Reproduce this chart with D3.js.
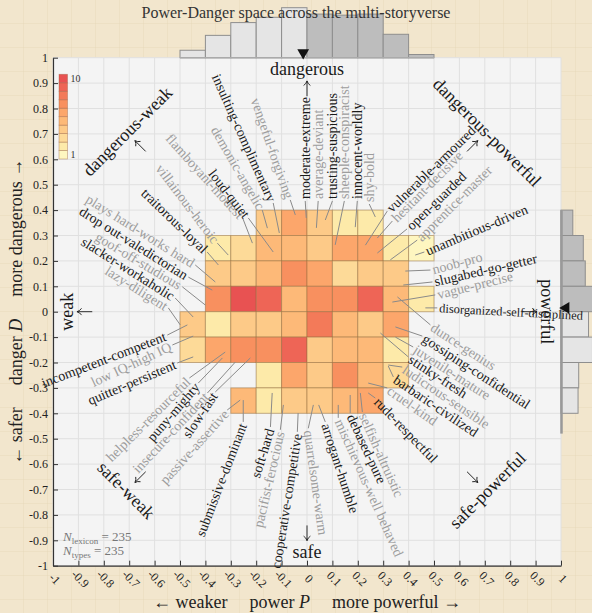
<!DOCTYPE html>
<html><head><meta charset="utf-8">
<script src="https://cdn.jsdelivr.net/npm/d3@7"></script>
<style>
html,body{margin:0;padding:0;background:#f2e7d0;}
svg{display:block;font-family:"Liberation Serif","DejaVu Serif",serif;}
</style></head><body>
<svg id="chart" width="592" height="613"></svg>
<script>
// ---------------- DATA ----------------
const powerBins  = [-0.5,-0.4,-0.3,-0.2,-0.1,0,0.1,0.2,0.3,0.4];   // left edge of each power bin
const dangerBins = [0.3,0.2,0.1,0,-0.1,-0.2,-0.3,-0.4];            // bottom edge of each danger bin
// counts per cell: rows follow dangerBins, columns follow powerBins (0 = empty)
const cellCounts = [
  [0,0,0,4,6,4,2,2,0,0],
  [0,2,3,5,5,4,6,6,2,1],
  [0,4,4,5,7,6,3,4,4,0],
  [0,7,10,9,5,7,7,9,5,2],
  [4,2,4,4,5,8,5,4,6,0],
  [3,6,7,7,9,4,5,5,2,0],
  [0,0,0,2,6,4,7,5,3,0],
  [0,0,5,2,4,4,5,6,0,0]
];
const colorLevels = [1,2,3,4,5,6,7,8,9,10];
const tickValues = d3.range(-10,11).map(i=>i/10);
const meanPower = -0.015, meanDanger = 0.015;
const nLexicon = 235, nTypes = 235;

const labelNames = ["plays hard-works hard","drop out-valedictorian","goof-off-studious","slacker-workaholic","lazy-diligent",
 "incompetent-competent","low IQ-high IQ","quitter-persistent","traitorous-loyal","villainous-heroic","flamboyant-modest",
 "demonic-angelic","loud-quiet","insulting-complimentary","vengeful-forgiving","moderate-extreme","average-deviant",
 "trusting-suspicious","sheeple-conspiracist","innocent-worldly","shy-bold","vulnerable-armoured","hesitant-decisive",
 "open-guarded","apprentice-master","unambitious-driven","noob-pro","slugabed-go-getter","vague-precise",
 "disorganized-self-disciplined","dunce-genius","gossiping-confidential","juvenile-mature","stinky-fresh",
 "ludicrous-sensible","barbaric-civilized","cruel-kind","rude-respectful","selfish-altruistic","debased-pure",
 "mischievous-well behaved","arrogant-humble","quarrelsome-warm","cooperative-competitive","pacifist-ferocious",
 "soft-hard","submissive-dominant","passive-assertive","slow-fast","insecure-confident","puny-mighty","helpless-resourceful"];
const labelGray = [1,0,1,0,1,0,1,0,0,1,1,1,0,0,1,0,1,0,1,0,1,0,1,0,1,0,1,0,1,0,1,0,1,0,1,0,1,0,1,0,1,0,1,0,1,0,0,1,0,1,0,1];
// word locations (power P, danger D) that the leader lines point at
const labelP = [-0.361,-0.373,-0.400,-0.448,-0.499,-0.471,-0.448,-0.448,-0.349,-0.310,-0.215,-0.156,-0.133,-0.109,-0.046,
 -0.003,0.037,0.072,0.111,0.190,0.269,0.230,0.277,0.277,0.328,0.426,0.387,0.379,0.336,0.466,0.356,0.348,0.348,0.289,
 0.320,0.320,0.241,0.241,0.210,0.170,0.123,0.046,0.025,-0.035,-0.093,-0.137,-0.251,-0.263,-0.223,-0.282,-0.333,-0.322];
const labelD = [0.117,0.085,0.026,-0.021,-0.052,-0.052,-0.096,-0.178,0.184,0.223,0.270,0.329,0.235,0.310,0.381,
 0.369,0.330,0.361,0.263,0.333,0.373,0.262,0.290,0.231,0.204,0.223,0.160,0.105,0.038,0.015,0.058,-0.060,-0.100,-0.084,
 -0.210,-0.214,-0.281,-0.320,-0.320,-0.328,-0.367,-0.367,-0.367,-0.399,-0.367,-0.320,-0.348,-0.348,-0.182,-0.198,-0.182,-0.159];

// ---------------- LAYOUT (label placement, in data units) ----------------
const labelAnchorP = [-0.440,-0.467,-0.491,-0.519,-0.546,-0.550,-0.530,-0.511,-0.393,-0.353,-0.253,-0.176,-0.231,-0.133,-0.066,
 -0.007,0.044,0.100,0.147,0.198,0.245,0.316,0.336,0.394,0.434,0.462,0.486,0.494,0.505,0.513,0.486,0.454,0.418,0.399,
 0.375,0.340,0.316,0.269,0.218,0.170,0.123,0.072,0.005,-0.038,-0.105,-0.144,-0.251,-0.314,-0.361,-0.392,-0.428,-0.463];
const labelAnchorD = [0.184,0.136,0.098,0.054,0.015,-0.092,-0.131,-0.202,0.235,0.270,0.368,0.400,0.369,0.428,0.440,
 0.436,0.436,0.436,0.436,0.436,0.424,0.396,0.357,0.326,0.282,0.235,0.164,0.117,0.066,0.015,-0.052,-0.096,-0.139,-0.178,
 -0.218,-0.257,-0.300,-0.340,-0.395,-0.399,-0.418,-0.434,-0.459,-0.473,-0.465,-0.454,-0.434,-0.387,-0.316,-0.320,-0.281,-0.261];
const labelAngle = [32,32,31,32,32,-21,-25,-23,44,53,48,60,52,66,71,-90,-90,-90,-90,-90,-90,-44,-45,-44,-45,-23,-15,-13,-14,3,
 33,33,33,33,34,34,35,46,66,65,66,72,82,-81,-77,-73,-69,-48,-56,-47,-49,-45];

const palette = ["#fef6c0","#fdeaa9","#fdda98","#fdca88","#fdb978","#fca66b","#f8905f","#f37a59","#ee6556","#e85252"];

// ---------------- CHART ----------------
const W=592,H=613;
const svg=d3.select("#chart");
const x=d3.scaleLinear().domain([-1,1]).range([53,561]);
const y=d3.scaleLinear().domain([-1,1]).range([565.7,57.7]);
const bw=0.1;

const defs=svg.append("defs");
const pat=defs.append("pattern").attr("id","paper").attr("width",24).attr("height",24).attr("patternUnits","userSpaceOnUse");
pat.append("rect").attr("width",24).attr("height",24).attr("fill","#f2e6cd");
pat.append("path").attr("d","M24 0V24M0 24H24").attr("stroke","#e4d4b4").attr("stroke-width",0.7).attr("fill","none");
svg.append("rect").attr("width",W).attr("height",H).attr("fill","url(#paper)");

// plot background + grid
svg.append("rect").attr("x",x(-1)).attr("y",y(1)).attr("width",x(1)-x(-1)).attr("height",y(-1)-y(1)).attr("fill","#f4f4f4");
const grid=svg.append("g").attr("stroke","#e0e0e0").attr("stroke-width",1);
grid.selectAll("line.gv").data(tickValues).join("line").attr("class","gv")
  .attr("x1",d=>x(d)).attr("x2",d=>x(d)).attr("y1",y(1)).attr("y2",y(-1));
grid.selectAll("line.gh").data(tickValues).join("line").attr("class","gh")
  .attr("y1",d=>y(d)).attr("y2",d=>y(d)).attr("x1",x(-1)).attr("x2",x(1));

// marginal histograms
const colSums = powerBins.map((p,i)=>d3.sum(cellCounts,r=>r[i]));
const rowSums = cellCounts.map(r=>d3.sum(r));
const hTop = d3.scaleLinear().domain([0,d3.max(colSums)]).range([0,50]);
const hRight = d3.scaleLinear().domain([0,d3.max(rowSums)]).range([0,40]);

svg.append("g").selectAll("rect").data(powerBins).join("rect")
  .attr("x",p=>x(p)).attr("width",p=>x(p+bw)-x(p))
  .attr("y",(p,i)=>y(1)-hTop(colSums[i])).attr("height",(p,i)=>hTop(colSums[i]))
  .attr("fill",p=>p>=0?"#bdbdbd":"#e5e5e5").attr("stroke","#8e8e8e").attr("stroke-width",1);
svg.append("line").attr("x1",x(d3.min(powerBins))).attr("x2",x(d3.max(powerBins)+bw)).attr("y1",y(1)).attr("y2",y(1))
  .attr("stroke","#aaa").attr("stroke-width",1.5);

svg.append("g").selectAll("rect").data(dangerBins).join("rect")
  .attr("x",x(1)).attr("width",(d,i)=>hRight(rowSums[i]))
  .attr("y",d=>y(d+bw)).attr("height",d=>y(d)-y(d+bw))
  .attr("fill",d=>d>=0?"#bdbdbd":"#e5e5e5").attr("stroke","#8e8e8e").attr("stroke-width",1);
svg.append("line").attr("x1",x(1)+0.5).attr("x2",x(1)+0.5).attr("y1",y(d3.max(dangerBins)+bw)).attr("y2",y(d3.min(dangerBins)-0.08))
  .attr("stroke","#999").attr("stroke-width",2.5);

// mean markers
svg.append("path").attr("d",d3.symbol(d3.symbolTriangle,60)())
  .attr("transform",`translate(${x(meanPower)},${y(1)-5}) rotate(180)`).attr("fill","#111");
svg.append("path").attr("d",d3.symbol(d3.symbolTriangle,60)())
  .attr("transform",`translate(${x(1)+5},${y(meanDanger)}) rotate(-90)`).attr("fill","#111");

// heat-map cells
const cells=[];
cellCounts.forEach((row,j)=>row.forEach((c,i)=>{ if(c>0) cells.push({p:powerBins[i],d:dangerBins[j],c}); }));
const color = d3.scaleQuantize().domain([0.5,10.5]).range(palette);
svg.append("g").selectAll("rect").data(cells).join("rect")
  .attr("x",d=>x(d.p)).attr("y",d=>y(d.d+bw)).attr("width",d=>x(d.p+bw)-x(d.p)).attr("height",d=>y(d.d)-y(d.d+bw))
  .attr("fill",d=>color(d.c)).attr("stroke","rgba(150,110,60,0.5)").attr("stroke-width",1);

// colorbar legend
const cb=svg.append("g");
const cbTop=74.3, cbH=84.7, cbX=59, cbW=8.5;
const cbY=d3.scaleBand().domain(colorLevels.slice().reverse()).range([cbTop,cbTop+cbH]);
cb.selectAll("rect").data(colorLevels).join("rect")
  .attr("x",cbX).attr("width",cbW).attr("y",d=>cbY(d)).attr("height",cbY.bandwidth())
  .attr("fill",d=>color(d)).attr("stroke","rgba(150,90,60,0.45)").attr("stroke-width",0.8);
cb.append("text").attr("x",cbX+cbW+3).attr("y",cbY(10)+cbY.bandwidth()/2+3.5).attr("font-size",10).attr("fill","#333").text(d3.max(colorLevels));
cb.append("text").attr("x",cbX+cbW+3).attr("y",cbY(1)+cbY.bandwidth()/2+3.5).attr("font-size",10).attr("fill","#333").text(d3.min(colorLevels));

// leader lines + labels
const labels = labelNames.map((t,i)=>{
  const tx=x(labelP[i]), ty=y(labelD[i]), ax=x(labelAnchorP[i]), ay=y(labelAnchorD[i]);
  const a=labelAngle[i]*Math.PI/180;
  const out=(ax-tx)*Math.cos(a)+(ay-ty)*Math.sin(a);
  return {t,gray:labelGray[i],tx,ty,ax,ay,ang:labelAngle[i],start:out>=0};
});
svg.append("g").selectAll("line").data(labels).join("line")
  .attr("x1",d=>d.tx).attr("y1",d=>d.ty).attr("x2",d=>d.ax).attr("y2",d=>d.ay)
  .attr("stroke","#8a8a8a").attr("stroke-width",1);
const labelFont=14;
svg.append("g").selectAll("text").data(labels).join("text")
  .attr("transform",d=>`translate(${d.ax},${d.ay}) rotate(${d.ang})`)
  .attr("text-anchor",d=>d.start?"start":"end")
  .attr("dx",d=>d.start?2:-2).attr("dy","0.35em")
  .attr("font-size",labelFont).attr("fill",d=>d.gray?"#9d9d9d":"#1a1a1a")
  .text(d=>d.t)
  .each(function(d){
    // shrink a label that would run past the right edge of the canvas
    const a=d.ang*Math.PI/180, len=this.getComputedTextLength();
    if(d.start && Math.cos(a)>0.5){
      const avail=(W-9-d.ax-2)/Math.cos(a);
      if(len>avail) d3.select(this).attr("font-size",(labelFont*avail/len).toFixed(2));
    }
  });

// direction annotations
const dirText=["dangerous","safe","weak","powerful","dangerous-weak","dangerous-powerful","safe-weak","safe-powerful"];
const dirP=[0,0,-0.945,0.945,-0.708,0.71,-0.711,0.71];
const dirD=[0.955,-0.945,0,0,0.711,0.707,-0.702,-0.702];
const dirRot=[0,0,-90,90,-45,45,45,-45];
svg.append("g").selectAll("text").data(dirText).join("text")
  .attr("transform",(d,i)=>`translate(${x(dirP[i])},${y(dirD[i])}) rotate(${dirRot[i]})`)
  .attr("text-anchor","middle").attr("dy","0.35em").attr("font-size",18).attr("fill","#1a1a1a").text(d=>d);
const arrP=[0,0,-0.875,0.875,-0.656,0.651,-0.656,0.651];
const arrD=[0.878,-0.871,0,0,0.652,0.652,-0.651,-0.651];
const arrRot=[-90,90,180,0,-135,-45,135,45];
svg.append("g").selectAll("path").data(arrRot).join("path")
  .attr("transform",(d,i)=>`translate(${x(arrP[i])},${y(arrD[i])}) rotate(${d})`)
  .attr("d","M-7.5,0H7.5M3.2,-3.4Q4.8,-0.8 7.8,0Q4.8,0.8 3.2,3.4")
  .attr("fill","none").attr("stroke","#1a1a1a").attr("stroke-width",0.9);

// N annotation
const nt=svg.append("g").attr("font-size",13).attr("fill","#777");
const t1=nt.append("text").attr("x",63).attr("y",541);
t1.append("tspan").attr("font-style","italic").text("N");
t1.append("tspan").attr("font-size",9).attr("dy",3).text("lexicon");
t1.append("tspan").attr("dy",-3).text(" = "+nLexicon);
const t2=nt.append("text").attr("x",63).attr("y",555);
t2.append("tspan").attr("font-style","italic").text("N");
t2.append("tspan").attr("font-size",9).attr("dy",3).text("types");
t2.append("tspan").attr("dy",-3).text(" = "+nTypes);

// axes
const fmt=v=>Math.abs(v)<1e-9?"0":String(Math.round(v*10)/10);
const yAxis=svg.append("g").attr("transform",`translate(${x(-1)},0)`)
  .call(d3.axisLeft(y).tickValues(tickValues).tickSize(-5).tickSizeOuter(0).tickPadding(5).tickFormat(fmt));
yAxis.selectAll("text").attr("font-size",12).attr("font-family","Liberation Serif").attr("fill","#222");
yAxis.select(".domain").attr("stroke","#333").attr("stroke-width",1.2);
yAxis.selectAll(".tick line").attr("stroke","#333");
const xAxis=svg.append("g").attr("transform",`translate(0,${y(-1)})`)
  .call(d3.axisBottom(x).tickValues(tickValues).tickSize(-5).tickSizeOuter(0).tickFormat(""));
xAxis.select(".domain").attr("stroke","#333").attr("stroke-width",1.2);
xAxis.selectAll(".tick line").attr("stroke","#333");
svg.append("g").selectAll("text").data(tickValues).join("text")
  .attr("transform",d=>`translate(${x(d)+2},${y(-1)+13}) rotate(45)`)
  .attr("text-anchor","middle").attr("dy","0.35em").attr("font-size",12).attr("fill","#222").text(fmt);

// axis titles
function axisTitle(sel, left, mid, varName, right){
  sel.append("tspan").text(left);
  sel.append("tspan").attr("dx",22).text(mid+" ");
  sel.append("tspan").attr("font-style","italic").text(varName);
  sel.append("tspan").attr("dx",22).text(right);
}
axisTitle(svg.append("text").attr("x",(x(-1)+x(1))/2).attr("y",608).attr("text-anchor","middle").attr("font-size",18).attr("fill","#222"),
  "\u2190 weaker","power","P","more powerful \u2192");
axisTitle(svg.append("text").attr("transform",`translate(22,${(y(-1)+y(1))/2}) rotate(-90)`).attr("text-anchor","middle").attr("font-size",18).attr("fill","#222"),
  "\u2190 safer","danger","D","more dangerous \u2192");

// title
svg.append("text").attr("x",296).attr("y",18).attr("text-anchor","middle").attr("font-size",16).attr("fill","#333")
  .text("Power-Danger space across the multi-storyverse");
</script>
</body></html>
